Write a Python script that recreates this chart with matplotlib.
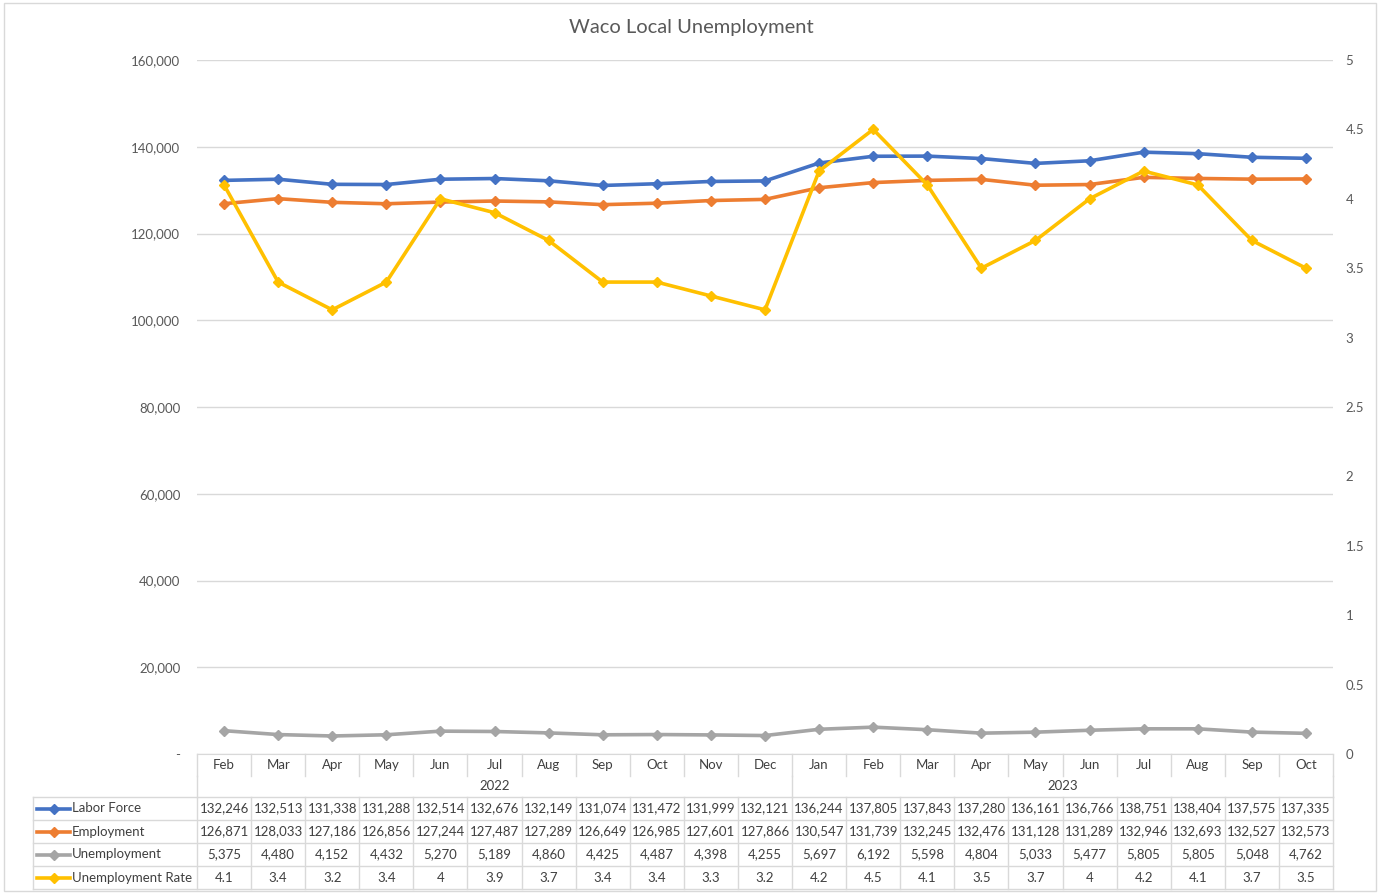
import numpy as np
import matplotlib.pyplot as plt
from matplotlib import font_manager
from matplotlib.patches import Rectangle
from matplotlib.ticker import FuncFormatter, MultipleLocator

installed = {f.name for f in font_manager.fontManager.ttflist}
base_font = 'Lato' if 'Lato' in installed else 'DejaVu Sans'
plt.rcParams['font.family'] = [base_font, 'DejaVu Sans']

months = ['Feb', 'Mar', 'Apr', 'May', 'Jun', 'Jul', 'Aug', 'Sep', 'Oct', 'Nov', 'Dec',
          'Jan', 'Feb', 'Mar', 'Apr', 'May', 'Jun', 'Jul', 'Aug', 'Sep', 'Oct']
years = ['2022', '2023']
year_counts = [11, 10]

labor_force = [132246, 132513, 131338, 131288, 132514, 132676, 132149, 131074, 131472, 131999, 132121,
               136244, 137805, 137843, 137280, 136161, 136766, 138751, 138404, 137575, 137335]
employment = [126871, 128033, 127186, 126856, 127244, 127487, 127289, 126649, 126985, 127601, 127866,
              130547, 131739, 132245, 132476, 131128, 131289, 132946, 132693, 132527, 132573]
unemployment = [5375, 4480, 4152, 4432, 5270, 5189, 4860, 4425, 4487, 4398, 4255,
                5697, 6192, 5598, 4804, 5033, 5477, 5805, 5805, 5048, 4762]
unemp_rate = [4.1, 3.4, 3.2, 3.4, 4, 3.9, 3.7, 3.4, 3.4, 3.3, 3.2,
              4.2, 4.5, 4.1, 3.5, 3.7, 4, 4.2, 4.1, 3.7, 3.5]

series_names = ['Labor Force', 'Employment', 'Unemployment', 'Unemployment Rate']
colors = ['#4472C4', '#ED7D31', '#A5A5A5', '#FFC000']

W, H = 1382, 894
fig = plt.figure(figsize=(W / 100, H / 100), dpi=100)
fig.patches.append(Rectangle((4 / W, 3 / H), 1372 / W, 888 / H, transform=fig.transFigure,
                             fill=False, edgecolor='#D9D9D9', lw=1))

ax = fig.add_axes([197 / W, 1 - 754 / H, (1333 - 197) / W, (754 - 60) / H])
x = np.arange(len(months))
lw, ms = 2.6, 5

for vals, c in zip([labor_force, employment, unemployment], colors[:3]):
    ax.plot(x, vals, color=c, lw=lw, marker='D', ms=ms, zorder=3)

ax2 = ax.twinx()
ax2.plot(x, unemp_rate, color=colors[3], lw=lw, marker='D', ms=ms, zorder=3)

ax.set_xlim(-0.5, len(months) - 0.5)
ax.set_ylim(0, 160000)
ax2.set_ylim(0, 5)
ax.yaxis.set_major_locator(MultipleLocator(20000))
ax2.yaxis.set_major_locator(MultipleLocator(0.5))
ax.yaxis.set_major_formatter(FuncFormatter(lambda v, p: '-' if v == 0 else f'{v:,.0f}'))
ax2.yaxis.set_major_formatter(FuncFormatter(lambda v, p: f'{v:g}'))
ax.grid(axis='y', color='#D9D9D9', lw=1)
ax.set_axisbelow(True)
ax.set_xticks([])
for a in (ax, ax2):
    for s in a.spines.values():
        s.set_visible(False)
    a.tick_params(axis='y', length=0, labelsize=9.5, labelcolor='#595959')
ax.tick_params(axis='y', pad=12)
ax2.tick_params(axis='y', pad=9)
ax.spines['bottom'].set_visible(True)
ax.spines['bottom'].set_color('#D9D9D9')

fig.text(0.5, 1 - 28 / H, 'Waco Local Unemployment', ha='center', va='center',
         fontsize=14.5, color='#595959')

# data table below the plot
ah = 694.0
def ay(py):
    return (754 - py) / ah

gx = ax.get_xaxis_transform()
grid_c = '#D9D9D9'
txt_c = '#404040'
fs = 9.5
n = len(months)
left_leg = (33 - 197) / 1136.0

# month row
for i, m in enumerate(months):
    ax.text(i, ay(765), m, transform=gx, ha='center', va='center', fontsize=fs, color=txt_c)
for b in np.arange(-0.5, n, 1.0):
    ax.plot([b, b], [ay(754), ay(776)], transform=gx, color=grid_c, lw=1, clip_on=False)
# year row
start = 0
for yr, cnt in zip(years, year_counts):
    ax.text(start + (cnt - 1) / 2, ay(786), yr, transform=gx, ha='center', va='center',
            fontsize=fs, color=txt_c)
    ax.plot([start - 0.5] * 2, [ay(776), ay(797)], transform=gx, color=grid_c, lw=1, clip_on=False)
    start += cnt
ax.plot([n - 0.5] * 2, [ay(776), ay(797)], transform=gx, color=grid_c, lw=1, clip_on=False)

# data rows
row_edges = [797, 820, 843, 866, 889]
for py in row_edges:
    ax.plot([left_leg, 1.0], [ay(py)] * 2, transform=ax.transAxes, color=grid_c, lw=1, clip_on=False)
ax.plot([left_leg] * 2, [ay(797), ay(889)], transform=ax.transAxes, color=grid_c, lw=1, clip_on=False)
for b in np.arange(-0.5, n, 1.0):
    ax.plot([b, b], [ay(797), ay(889)], transform=gx, color=grid_c, lw=1, clip_on=False)

all_series = [labor_force, employment, unemployment, unemp_rate]
for r, (name, vals, c) in enumerate(zip(series_names, all_series, colors)):
    yc = ay((row_edges[r] + row_edges[r + 1]) / 2)
    k0, k1 = (37 - 197) / 1136.0, (70 - 197) / 1136.0
    ax.plot([k0, k1], [yc, yc], transform=ax.transAxes, color=c, lw=lw, clip_on=False)
    ax.plot([(k0 + k1) / 2], [yc], transform=ax.transAxes, color=c, marker='D', ms=ms,
            clip_on=False)
    ax.text((72 - 197) / 1136.0, yc, name, transform=ax.transAxes, ha='left', va='center',
            fontsize=fs, color=txt_c)
    for i, v in enumerate(vals):
        lbl = f'{v:g}' if r == 3 else f'{v:,}'
        ax.text(i, yc, lbl, transform=gx, ha='center', va='center', fontsize=fs, color=txt_c)

fig.savefig('out.png', dpi=100)
